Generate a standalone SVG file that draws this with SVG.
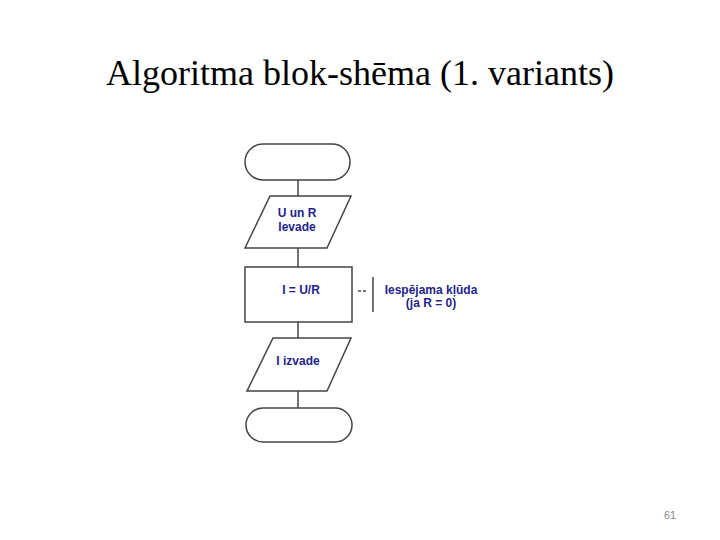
<svg xmlns="http://www.w3.org/2000/svg" width="720" height="540" viewBox="0 0 720 540">
<style>
.shape{fill:#fff;stroke:#444;stroke-width:1.5}
.conn{stroke:#444;stroke-width:1.5;fill:none}
.lbl{font-family:"Liberation Sans",Arial,sans-serif;font-weight:bold;font-size:12px;fill:#1f1f8c;text-anchor:middle}
</style>
<rect width="720" height="540" fill="#fff"/>
<text x="360" y="85" font-family="Liberation Serif,'Times New Roman',serif" font-size="36" text-anchor="middle" fill="#000">Algoritma blok-shēma (1. variants)</text>
<g id="connectors">
<line class="conn" x1="298" y1="180" x2="298" y2="196"/>
<line class="conn" x1="298" y1="248" x2="298" y2="267"/>
<line class="conn" x1="298" y1="322" x2="298" y2="338"/>
<line class="conn" x1="298" y1="391" x2="298" y2="408"/>
<line class="conn" x1="358" y1="291" x2="361" y2="291"/>
<line class="conn" x1="363" y1="291" x2="366" y2="291"/>
<line class="conn" x1="373" y1="277" x2="373" y2="312"/>
</g>
<g id="start"><rect class="shape" x="245" y="144" width="105" height="36" rx="18"/></g>
<g id="input"><polygon class="shape" points="270,196 351,196 327,248 245,248"/>
<text class="lbl" x="297" y="217">U un R</text><text class="lbl" x="297" y="231">Ievade</text></g>
<g id="compute"><rect class="shape" x="245" y="267" width="107" height="55"/>
<text class="lbl" x="301" y="294">I = U/R</text></g>
<g id="note"><text class="lbl" x="431" y="294">Iespējama kļūda</text><text class="lbl" x="431" y="307">(ja R = 0)</text></g>
<g id="output"><polygon class="shape" points="273,338 351,338 327,391 247,391"/>
<text class="lbl" x="298" y="365">I izvade</text></g>
<g id="end"><rect class="shape" x="246" y="408" width="106" height="34" rx="17"/></g>
<text x="670" y="519" font-family="Liberation Sans,Arial,sans-serif" font-size="11" fill="#888" text-anchor="middle">61</text>
</svg>
